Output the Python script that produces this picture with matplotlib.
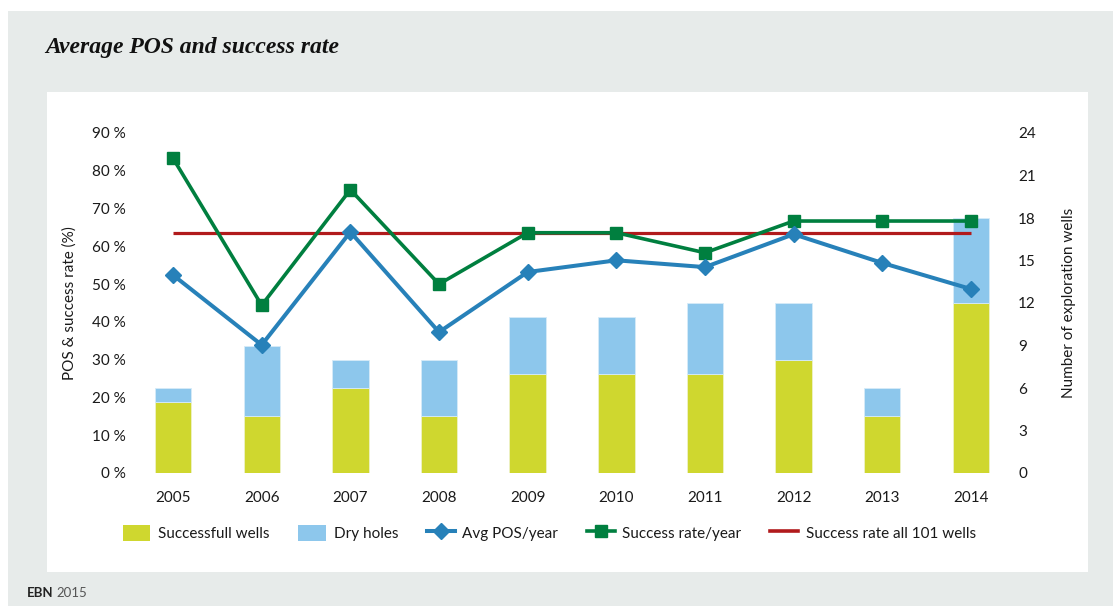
import matplotlib.pyplot as plt
from matplotlib.lines import Line2D
from matplotlib.patches import Patch
import numpy as np

# well counts and rates per year
years = ['2005', '2006', '2007', '2008', '2009', '2010', '2011', '2012', '2013', '2014']
successful_wells = [5, 4, 6, 4, 7, 7, 7, 8, 4, 12]
dry_holes = [1, 5, 2, 4, 4, 4, 5, 4, 2, 6]
avg_pos = [52.4, 33.9, 63.8, 37.3, 53.2, 56.3, 54.5, 63.2, 55.6, 48.7]
success_rate = [83.3, 44.4, 75.0, 50.0, 63.6, 63.6, 58.3, 66.7, 66.7, 66.7]
success_rate_all = [63.4] * len(years)

pct_ticks = [0, 10, 20, 30, 40, 50, 60, 70, 80, 90]
well_ticks = [0, 3, 6, 9, 12, 15, 18, 21, 24]

c_yellow = '#cfd72f'
c_lblue = '#8dc7ec'
c_blue = '#2781b9'
c_green = '#007f3f'
c_red = '#b11a1c'
c_gray = '#e7ebea'
c_text = '#1a1a1a'

plt.rcParams['font.family'] = ['Lato', 'DejaVu Sans']
fs = 11

W, H = 1113, 606
fig = plt.figure(figsize=(W / 100, H / 100), dpi=100)
fig.patch.set_facecolor('white')

# gray frame and white inner panel
fig.patches.append(plt.Rectangle((8 / W, 0), 1 - 8 / W, 1 - 11 / H, transform=fig.transFigure,
                                 facecolor=c_gray, edgecolor='none', zorder=-3))
fig.patches.append(plt.Rectangle((47 / W, (H - 572) / H), (1088 - 47) / W, (572 - 92) / H,
                                 transform=fig.transFigure, facecolor='white', edgecolor='none', zorder=-2))

x = np.arange(len(years))
left, right = 128.7, 1015.3
ax = fig.add_axes([left / W, (H - 473) / H, (right - left) / W, 340 / H])
ax2 = ax.twinx()

# bars on the right-hand scale
ax2.bar(x, successful_wells, width=0.41, color=c_yellow, edgecolor='#eef2c8', linewidth=0.6)
ax2.bar(x, dry_holes, bottom=successful_wells, width=0.41, color=c_lblue, edgecolor='#d6ebf8', linewidth=0.6)
ax2.set_ylim(0, 24)
ax2.set_yticks(well_ticks)

# lines on the left-hand scale, drawn above the bars
ax.set_zorder(ax2.get_zorder() + 1)
ax.patch.set_visible(False)
ax.plot(x, success_rate_all, color=c_red, lw=2.3, solid_capstyle='butt')
ax.plot(x, success_rate, color=c_green, lw=2.6, marker='s', ms=9)
ax.plot(x, avg_pos, color=c_blue, lw=2.9, marker='D', ms=8.5)
ax.set_ylim(0, 90)
ax.set_xlim(-0.5, len(years) - 0.5)
ax.set_yticks(pct_ticks)
ax.set_yticklabels(['%d %%' % v for v in pct_ticks])
ax.set_xticks(x)
ax.set_xticklabels(years)

for a in (ax, ax2):
    for s in a.spines.values():
        s.set_visible(False)
    a.tick_params(length=0, labelsize=fs, colors=c_text)
ax.tick_params(axis='x', pad=13)
ax.tick_params(axis='y', pad=2)
ax2.tick_params(axis='y', pad=2)

ax.set_ylabel('POS & success rate (%)', fontsize=fs, color=c_text, labelpad=11)
ax2.set_ylabel('Number of exploration wells', fontsize=fs, color=c_text, labelpad=19)

handles = [
    Patch(facecolor=c_yellow, edgecolor='none'),
    Patch(facecolor=c_lblue, edgecolor='none'),
    Line2D([], [], color=c_blue, lw=2.9, marker='D', ms=8.5),
    Line2D([], [], color=c_green, lw=2.6, marker='s', ms=9),
    Line2D([], [], color=c_red, lw=2.6),
]
labels = ['Successfull wells', 'Dry holes', 'Avg POS/year', 'Success rate/year', 'Success rate all 101 wells']
fig.legend(handles, labels, loc='center left', bbox_to_anchor=(109 / W, (H - 533) / H), ncol=5,
           frameon=False, fontsize=fs, handlelength=1.8, handleheight=1.3, columnspacing=1.9,
           handletextpad=0.5, labelcolor=c_text)

fig.text(45 / W, (H - 47) / H, 'Average POS and success rate', fontsize=17, style='italic',
         weight='bold', family='Liberation Serif', va='center', ha='left', color='#111111')
fig.text(27 / W, (H - 593) / H, 'EBN', fontsize=9.5, weight='bold', va='center', color='#222222')
fig.text(56 / W, (H - 593) / H, '2015', fontsize=9.5, va='center', color='#555555')

fig.savefig('out.png', dpi=100)
